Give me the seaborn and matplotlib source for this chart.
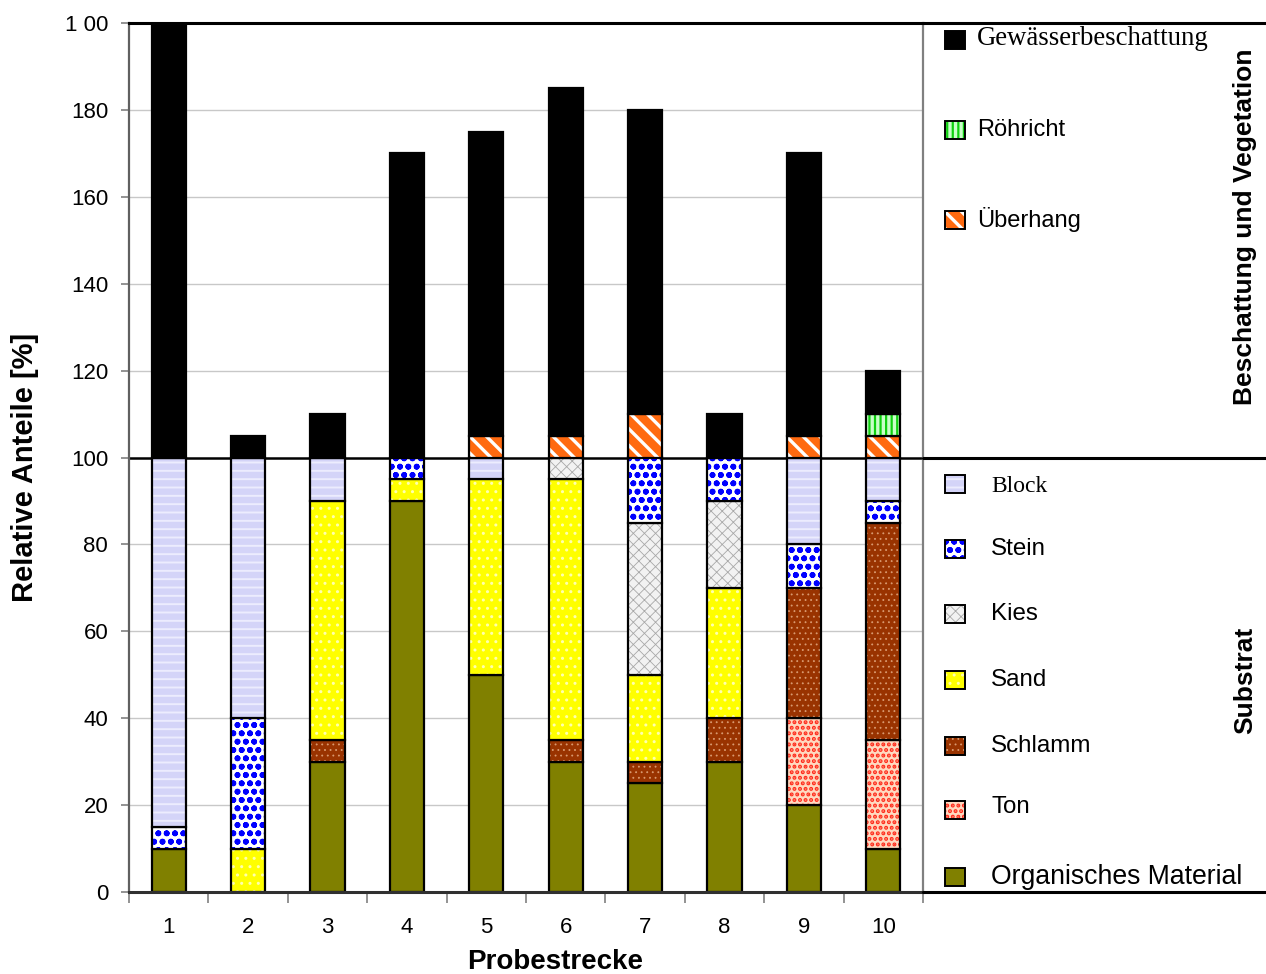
import matplotlib
matplotlib.use("Agg")
import matplotlib.pyplot as plt
from matplotlib.patches import Rectangle
import numpy as np
import pandas as pd
import seaborn as sns

# ---------------------------------------------------------------- data
strecken = ["1", "2", "3", "4", "5", "6", "7", "8", "9", "10"]

# Substrat, Anteile in % (von unten nach oben gestapelt)
organisches_material = [10, 0, 30, 90, 50, 30, 25, 30, 20, 10]
ton = [0, 0, 0, 0, 0, 0, 0, 0, 20, 25]
schlamm = [0, 0, 5, 0, 0, 5, 5, 10, 30, 50]
sand = [0, 10, 55, 5, 45, 60, 20, 30, 0, 0]
kies = [0, 0, 0, 0, 0, 5, 35, 20, 0, 0]
stein = [5, 30, 0, 5, 0, 0, 15, 10, 10, 5]
block = [85, 60, 10, 0, 5, 0, 0, 0, 20, 10]

# Beschattung und Vegetation, Anteile in % (oberhalb von 100 gestapelt)
ueberhang = [0, 0, 0, 0, 5, 5, 10, 0, 5, 5]
roehricht = [0, 0, 0, 0, 0, 0, 0, 0, 0, 5]
gewaesserbeschattung = [100, 5, 10, 70, 70, 80, 70, 10, 65, 10]

ytick_labels = ["0", "20", "40", "60", "80", "100", "120", "140", "160", "180", "1 00"]

# ---------------------------------------------------------------- styles
# face colour, hatch, hatch colour, hatch line width
STYLE = {
    "Organisches Material": ("#808000", "", "#808000", 1.0),
    "Ton": ("#ffd9c0", "...", "#ff2a1a", 2.0),
    "Schlamm": ("#993300", "...", "#d99a70", 0.6),
    "Sand": ("#ffff00", "..", "#ffffb0", 1.0),
    "Kies": ("#f2f2f2", "xxx", "#a8a8a8", 0.6),
    "Stein": ("#ffffff", "oo", "#0000ff", 1.8),
    "Block": ("#d4d4f8", "--", "#ececfe", 1.4),
    "Überhang": ("#ff6a10", "\\\\", "#ffffff", 2.4),
    "Röhricht": ("#c8ffc8", "|||", "#10d010", 1.6),
    "Gewässerbeschattung": ("#000000", "", "#000000", 1.0),
}

SERIF = "Liberation Serif"
SANS = "Liberation Sans"

sns.set_style("white")
plt.rcParams["font.family"] = [SANS, "DejaVu Sans"]
plt.rcParams["text.color"] = "black"
plt.rcParams["axes.labelcolor"] = "black"
plt.rcParams["xtick.color"] = "black"
plt.rcParams["ytick.color"] = "black"

fig = plt.figure(figsize=(12.66, 9.74), dpi=100)
L, R, B, T = 129 / 1266, 923 / 1266, 82 / 974, 951 / 974
ax = fig.add_axes([L, B, R - L, T - B])

BAR_W = 0.43


def set_hatch_lw(patches, lw):
    for p in patches:
        if hasattr(p, "set_hatch_linewidth"):
            p.set_hatch_linewidth(lw)


def draw_segment(values, bottoms, name):
    face, hatch, hcol, hlw = STYLE[name]
    df = pd.DataFrame({"Probestrecke": strecken, "Anteil": values, "Basis": bottoms})
    df = df[df["Anteil"] > 0]
    if df.empty:
        return
    common = dict(data=df, x="Probestrecke", y="Anteil", order=strecken,
                  width=BAR_W, errorbar=None, saturation=1, ax=ax,
                  bottom=df["Basis"].to_numpy(), zorder=2)
    n0 = len(ax.patches)
    with plt.rc_context({"hatch.linewidth": hlw}):
        sns.barplot(**common, color=face, facecolor=face, edgecolor=hcol,
                    linewidth=0, hatch=hatch or None)
    set_hatch_lw(ax.patches[n0:], hlw)
    sns.barplot(**common, color="black", facecolor="none", edgecolor="black",
                linewidth=1.6)


lower = [
    ("Organisches Material", organisches_material),
    ("Ton", ton),
    ("Schlamm", schlamm),
    ("Sand", sand),
    ("Kies", kies),
    ("Stein", stein),
    ("Block", block),
]
upper = [
    ("Überhang", ueberhang),
    ("Röhricht", roehricht),
    ("Gewässerbeschattung", gewaesserbeschattung),
]

base = np.zeros(len(strecken))
for name, vals in lower:
    draw_segment(vals, base.copy(), name)
    base += np.array(vals)
for name, vals in upper:
    draw_segment(vals, base.copy(), name)
    base += np.array(vals)

# ---------------------------------------------------------------- axes
ax.set_xlim(-0.5, len(strecken) - 0.5)
ax.set_ylim(0, 200)
ax.set_yticks(np.arange(0, 201, 20))
ax.set_yticklabels(ytick_labels)
ax.set_xticks(range(len(strecken)))
ax.set_xticklabels(strecken)
ax.set_xticks(np.arange(-0.5, len(strecken), 1.0), minor=True)
ax.tick_params(axis="x", which="major", length=0, pad=18, labelsize=16,
               labelcolor="black")
ax.tick_params(axis="x", which="minor", length=8, width=1.2, color="#808080",
               direction="out", bottom=True)
ax.tick_params(axis="y", length=6, width=1.2, color="#808080", direction="out",
               pad=9, labelsize=16, left=True, labelcolor="black")
ax.set_xlabel("")
ax.set_ylabel("")

for y in range(20, 200, 20):
    if y != 100:
        ax.axhline(y, color="#c8c8c8", lw=1.0, zorder=0)
ax.axhline(100, color="black", lw=1.8, zorder=1.5)

ax.spines["top"].set_color("black")
ax.spines["top"].set_linewidth(2.2)
ax.spines["bottom"].set_color("#303030")
ax.spines["bottom"].set_linewidth(2.2)
ax.spines["left"].set_color("#606060")
ax.spines["left"].set_linewidth(1.6)
ax.spines["right"].set_color("#808080")
ax.spines["right"].set_linewidth(1.6)
for s in ax.spines.values():
    s.set_visible(True)

fig.text(25 / 1266, 1 - 467 / 974, "Relative Anteile [%]", rotation=90,
         ha="center", va="center", fontsize=21, fontweight="bold")
fig.text(555 / 1266, 1 - 962 / 974, "Probestrecke", ha="center", va="center",
         fontsize=20, fontweight="bold")

# ---------------------------------------------------------------- legend panel
pax = fig.add_axes([R, B, 1 - R, T - B])
pax.set_xlim(0, 1)
pax.set_ylim(0, 200)
pax.axis("off")
for y in (0, 100, 200):
    pax.axhline(y, color="black", lw=2.2, clip_on=False)

SQ_X, SQ_W, SQ_H = 22 / 343, 20 / 343, 4.1
legend_items = [
    ("Gewässerbeschattung", 196.1, 196.4, 54, SERIF, 19.3),
    ("Röhricht", 175.4, 175.4, 54, SANS, 17),
    ("Überhang", 154.7, 154.7, 54, SANS, 17),
    ("Block", 93.9, 93.4, 68, SERIF, 17),
    ("Stein", 78.9, 78.9, 68, SANS, 17.4),
    ("Kies", 64.0, 64.0, 68, SANS, 17.4),
    ("Sand", 48.8, 48.8, 68, SANS, 17.4),
    ("Schlamm", 33.6, 33.6, 68, SANS, 17.4),
    ("Ton", 18.9, 19.6, 68, SANS, 17.4),
    ("Organisches Material", 3.5, 3.4, 68, SANS, 19.2),
]
for name, ysq, ytxt, xtxt, fam, fs in legend_items:
    face, hatch, hcol, hlw = STYLE[name]
    with plt.rc_context({"hatch.linewidth": hlw}):
        sq = Rectangle((SQ_X, ysq - SQ_H / 2), SQ_W, SQ_H, facecolor=face,
                       edgecolor=hcol, lw=0, hatch=hatch or None, clip_on=False)
    set_hatch_lw([sq], hlw)
    pax.add_patch(sq)
    pax.add_patch(Rectangle((SQ_X, ysq - SQ_H / 2), SQ_W, SQ_H, facecolor="none",
                            edgecolor="black", lw=1.4, clip_on=False))
    pax.text(xtxt / 343, ytxt, name, ha="left", va="center", fontsize=fs,
             family=[fam, "DejaVu Sans"])

pax.text(0.939, 153.0, "Beschattung und Vegetation", rotation=90, ha="center",
         va="center", fontsize=19, fontweight="bold")
pax.text(0.939, 48.8, "Substrat", rotation=90, ha="center", va="center",
         fontsize=19, fontweight="bold")

fig.savefig("out.png", dpi=100)
